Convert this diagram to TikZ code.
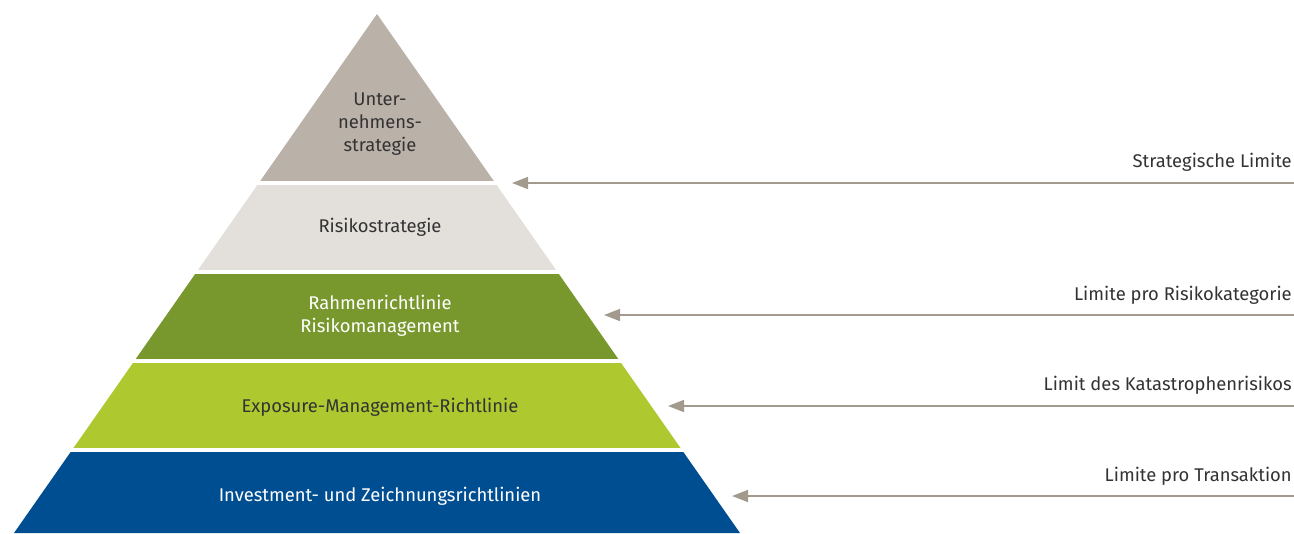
\documentclass[tikz,border=0pt]{standalone}
\usepackage{fontspec}
\setmainfont{Fira Sans}
\usetikzlibrary{positioning, arrows.meta}

\definecolor{stratgrey}{HTML}{BAB2A9}
\definecolor{risklight}{HTML}{E3E0DC}
\definecolor{olive}{HTML}{78982E}
\definecolor{lime}{HTML}{ADC92F}
\definecolor{deepblue}{HTML}{004E92}
\definecolor{arrowgrey}{HTML}{A39A8E}
\definecolor{textdark}{HTML}{333333}

\begin{document}
\begin{tikzpicture}[
    x=0.75pt, y=-0.75pt,
    layertext/.style={align=center, font=\fontsize{13.8}{17}\selectfont, text=textdark},
    lighttext/.style={layertext, text=white},
    limlabel/.style={anchor=base east, font=\fontsize{13.8}{16}\selectfont, text=textdark, inner sep=0pt},
    limarrow/.style={arrowgrey, line width=1.2pt, -{Triangle[length=12pt, width=9pt]}}
]
\useasboundingbox (0,0) rectangle (1294,533);

% pyramid, cut into layers
\begin{scope}
\clip (377,14) -- (14,533) -- (740,533) -- cycle;
\fill[stratgrey] (0,0) rectangle (800,180.5);
\fill[risklight] (0,184.5) rectangle (800,269.5);
\fill[olive] (0,273.5) rectangle (800,358.5);
\fill[lime] (0,362.5) rectangle (800,447.5);
\fill[deepblue] (0,451.5) rectangle (800,540);
\end{scope}

\node[layertext] (strategy) at (380,124) {Unter-\\nehmens-\\strategie};
\node[layertext] (riskstrat) at (380,227) {Risikostrategie};
\node[lighttext] (framework) at (380,316) {Rahmenrichtlinie\\Risikomanagement};
\node[layertext] (exposure) at (380,407) {Exposure-Management-Richtlinie};
\node[lighttext] (invest) at (380,496) {Investment- und Zeichnungsrichtlinien};

% limits coming in from the right
\coordinate (end1) at (1294,183);
\coordinate (end2) at (1294,315);
\coordinate (end3) at (1294,406);
\coordinate (end4) at (1294,496);
\coordinate (tip1) at (512,183);
\coordinate (tip2) at (604,315);
\coordinate (tip3) at (668,406);
\coordinate (tip4) at (732,496);

\node[limlabel] (lim1) at (1292,167) {Strategische Limite};
\node[limlabel] (lim2) at (1292,300) {Limite pro Risikokategorie};
\node[limlabel] (lim3) at (1292,390) {Limit des Katastrophenrisikos};
\node[limlabel] (lim4) at (1292,481) {Limite pro Transaktion};

\draw[limarrow] (end1) -- (tip1);
\draw[limarrow] (end2) -- (tip2);
\draw[limarrow] (end3) -- (tip3);
\draw[limarrow] (end4) -- (tip4);
\end{tikzpicture}
\end{document}
